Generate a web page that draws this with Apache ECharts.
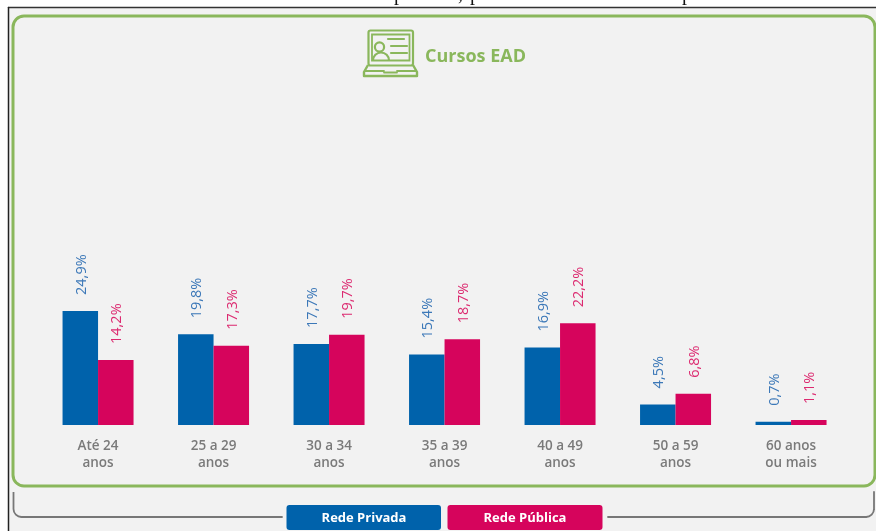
<!DOCTYPE html>
<html><head><meta charset="utf-8">
<style>html,body{margin:0;padding:0;background:#fff}#c{width:876px;height:531px}</style>
<script src="https://cdn.jsdelivr.net/npm/echarts@6/dist/echarts.min.js"></script>
</head><body><div id="c"></div>
<script>
const categories = ['Até 24\nanos','25 a 29\nanos','30 a 34\nanos','35 a 39\nanos','40 a 49\nanos','50 a 59\nanos','60 anos\nou mais'];
const redePrivada = [24.9,19.8,17.7,15.4,16.9,4.5,0.7];
const redePublica = [14.2,17.3,19.7,18.7,22.2,6.8,1.1];
const seriesNames = ['Rede Privada','Rede Pública'];
const chartTitle = 'Cursos EAD';

const GREEN='#8ab75c', BLUE='#0062ab', PINK='#d6045c', GRAY='#777777';
const FONT='"Open Sans","Noto Sans",sans-serif';
const chart = echarts.init(document.getElementById('c'),null,{renderer:'canvas'});
const ln=(x1,y1,x2,y2,c,w)=>({type:'line',shape:{x1,y1,x2,y2},style:{stroke:c||GREEN,lineWidth:w||2.2,lineCap:'round'},silent:true});
const cut=(t,x)=>({type:'text',x,y:4.5,style:{text:t,fill:'#111',font:'20px "Liberation Serif",serif',align:'left',verticalAlign:'bottom'},silent:true});
const g=[
 {type:'rect',shape:{x:9,y:8,width:867,height:523},style:{fill:'#f2f2f2'},z:-10,silent:true},
 cut('p',394), cut(',',458), cut('p',470), cut('p',682),
 ln(8.5,7.5,876,7.5,'#333',1.5), ln(8.5,7.5,8.5,531,'#222',1.5),
 {type:'rect',shape:{x:13,y:16,width:862,height:470,r:11},style:{fill:'none',stroke:GREEN,lineWidth:3},z:-5,silent:true},
 // bracket below the panel
 {type:'polyline',shape:{points:[[13.5,492],[13.5,509]]},style:{stroke:GRAY,lineWidth:1.8,fill:'none'},silent:true},
 {type:'arc',shape:{cx:21.5,cy:509,r:8,startAngle:Math.PI/2,endAngle:Math.PI,clockwise:true},style:{stroke:GRAY,lineWidth:1.8,fill:'none'},silent:true},
 ln(21.5,517,282,517,GRAY,1.8),
 ln(608,517,866,517,GRAY,1.8),
 {type:'arc',shape:{cx:866,cy:509,r:8,startAngle:0,endAngle:Math.PI/2,clockwise:true},style:{stroke:GRAY,lineWidth:1.8,fill:'none'},silent:true},
 ln(874,492,874,509,GRAY,1.8),
 // legend buttons
 {type:'rect',shape:{x:286.5,y:505,width:154.5,height:25,r:3},style:{fill:BLUE},silent:true},
 {type:'rect',shape:{x:447.5,y:505,width:155,height:25,r:3},style:{fill:PINK},silent:true},
 {type:'text',x:364,y:518,style:{text:seriesNames[0],fill:'#fff',font:'700 13px '+FONT,align:'center',verticalAlign:'middle'},silent:true},
 {type:'text',x:525,y:518,style:{text:seriesNames[1],fill:'#fff',font:'700 13px '+FONT,align:'center',verticalAlign:'middle'},silent:true},
 // title
 {type:'text',x:425,y:57,style:{text:chartTitle,fill:GREEN,font:'700 18px '+FONT,align:'left',verticalAlign:'middle'},silent:true},
 // laptop icon
 {type:'rect',shape:{x:368.5,y:30.5,width:44.5,height:35,r:2},style:{fill:'none',stroke:GREEN,lineWidth:2.2},silent:true},
 {type:'rect',shape:{x:372,y:34.5,width:37.5,height:26},style:{fill:'none',stroke:GREEN,lineWidth:1.8},silent:true},
 {type:'circle',shape:{cx:379.5,cy:47,r:4.6},style:{fill:'none',stroke:GREEN,lineWidth:2.2},silent:true},
 {type:'arc',shape:{cx:381,cy:60.5,r:8,startAngle:Math.PI,endAngle:2*Math.PI,clockwise:true},style:{fill:'none',stroke:GREEN,lineWidth:2.2},silent:true},
 ln(388,39,404,39), ln(391,46,407,46), ln(391,53,407,53),
 {type:'polyline',shape:{points:[[368,65],[364,72],[364,76],[417,76],[417,72],[413,65]]},style:{fill:'none',stroke:GREEN,lineWidth:2.4,lineJoin:'round'},silent:true},
 ln(365,71,384,71,GREEN,1.8), ln(397,71,416,71,GREEN,1.8), ln(384,72.5,397,72.5,GREEN,1.8),
];
const bar=(name,data,color)=>({
 name,type:'bar',data,barWidth:35.5,barGap:0,itemStyle:{color},
 label:{show:true,position:'top',distance:16,offset:[0,1.5],rotate:90,align:'left',verticalAlign:'middle',
  color:color===BLUE?'#3c78b8':'#dc2a70',fontFamily:FONT,fontSize:14.5,
  formatter:p=>p.value.toFixed(1).replace('.',',')+'%'}
});
chart.setOption({
 animation:false,backgroundColor:'#fff',
 grid:{left:40.3,right:27.2,top:104.4,bottom:106,containLabel:false},
 xAxis:{type:'category',data:categories,axisLine:{show:false},axisTick:{show:false},
  axisLabel:{interval:0,margin:13,color:'#7a7a7a',fontFamily:FONT,fontWeight:600,fontSize:13.5,lineHeight:17}},
 yAxis:{type:'value',min:0,max:70,show:false,splitLine:{show:false}},
 series:[bar(seriesNames[0],redePrivada,BLUE),bar(seriesNames[1],redePublica,PINK)],
 graphic:{elements:g}
});
</script></body></html>
